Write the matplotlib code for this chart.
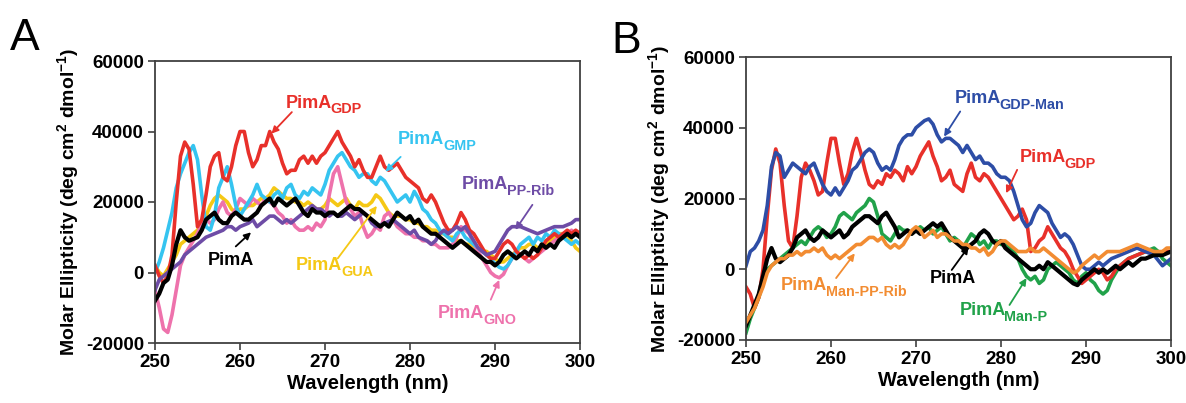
import numpy as np
import matplotlib
matplotlib.use("Agg")
import matplotlib.pyplot as plt

plt.rcParams['font.family'] = ['Liberation Sans', 'DejaVu Sans']
plt.rcParams['mathtext.fontset'] = 'custom'
plt.rcParams['mathtext.bf'] = 'Liberation Sans:bold'
plt.rcParams['mathtext.rm'] = 'Liberation Sans:bold'

# shared wavelength grid (nm), 0.5 nm steps
wavelength = np.arange(250.0, 300.01, 0.5)

# ---------------- Panel A (values in units of 1000 deg cm2 dmol-1) ----------------
a_gdp = [2, -1, -3, -1, 5, 20, 33, 37, 35, 25,
         13, 15, 22, 30, 33, 34, 27, 26, 30, 36,
         40, 40, 34, 30, 32, 36, 36, 40, 37, 35,
         31, 28, 29, 29, 32, 33, 31, 33, 31, 33,
         34, 36, 38, 40, 37, 35, 33, 30, 32, 29,
         27, 27, 30, 33, 30, 29, 30, 31, 29, 27,
         26, 25, 24, 21, 20, 22, 20, 17, 14, 12,
         12, 14, 17, 15, 12, 11, 9, 7, 5, 4,
         4, 6, 8, 9, 8, 6, 5, 4, 5, 4,
         5, 7, 9, 10, 11, 10, 11, 12, 11, 12,
         11]
a_gmp = [0, 3, 7, 12, 17, 24, 28, 31, 34, 36,
         32, 22, 13, 12, 16, 24, 27, 30, 25, 19,
         16, 18, 20, 22, 25, 22, 21, 20, 22, 23,
         21, 24, 25, 22, 21, 23, 22, 24, 23, 22,
         25, 29, 31, 33, 34, 32, 30, 29, 27, 28,
         28, 26, 25, 27, 26, 24, 22, 20, 21, 22,
         20, 23, 21, 18, 17, 15, 14, 12, 11, 10,
         9, 11, 12, 10, 9, 8, 7, 6, 5, 4,
         2.5, 1.5, 1, 2, 4, 6, 8, 9, 10, 8,
         10, 9, 11, 10, 12, 11, 10, 9, 8, 9,
         8]
a_gua = [2, 0, -1, 1, 3, 5, 8, 9, 10, 11,
         12, 14, 16, 19, 21, 22, 21, 20, 18, 17,
         18, 18, 19, 19, 20, 21, 21, 22, 24, 23,
         22, 21, 21, 20, 20, 19, 20, 19, 18, 18,
         19, 21, 20, 19, 20, 21, 19, 18, 20, 19,
         19, 20, 22, 21, 19, 17, 16, 16, 16, 15,
         15, 14, 14, 13, 13, 12, 12, 11, 11, 10,
         10, 9, 9, 8, 8, 7, 7, 6, 6, 5,
         4, 3, 3, 4, 5, 6, 7, 7, 8, 8,
         7, 7, 8, 9, 10, 11, 11, 10, 9, 7,
         6]
a_gno = [-5, -10, -16, -17, -12, -5, 2, 5, 7, 9,
         11, 14, 15, 14, 15, 18, 20, 17, 16, 18,
         21, 20, 19, 21, 20, 19, 21, 20, 19, 17,
         16, 14, 15, 13, 12, 12, 13, 12, 14, 13,
         15, 22, 28, 30, 25, 20, 18, 16, 17, 13,
         10, 11, 13, 12, 16, 17, 15, 13, 12, 11,
         11, 10, 10, 9, 9, 8, 8, 7, 7, 7,
         8, 10, 13, 12, 11, 8, 6, 4, 2, 0,
         -1, -1.5, -0.5, 2, 4, 6, 5, 4, 3, 4,
         5, 6, 7, 8, 9, 10, 11, 11, 12, 11,
         11]
a_pprib = [-5, -2, -1, 0, 1, 2, 3, 5, 6, 7,
           8, 9, 10, 10.5, 11, 11.5, 12, 13, 13, 12,
           13, 13.5, 14, 15, 13, 14, 15, 16, 16, 15,
           14, 15, 14, 15, 16, 17, 18, 19, 18, 18,
           17, 16, 17, 16, 16, 17, 16, 15, 16, 17,
           16, 14, 13, 13.5, 14, 14.5, 15, 14, 13, 12,
           11, 12, 10, 9.5, 9, 8, 9, 11, 12, 11,
           12, 13, 12, 13, 11, 9, 7, 6, 5, 5.5,
           6, 8, 10, 12, 13, 13, 13, 12.5, 12, 11.5,
           11, 11.5, 12, 12.5, 13, 13, 13, 13.5, 14, 15,
           15]
a_pima = [-8, -6, -3, -2, 2, 8, 12, 10, 9, 9.5,
          10, 12, 15, 16, 17, 15, 14, 14, 16, 17,
          16, 15, 15, 16, 17, 19, 20, 21, 19, 21,
          20, 19, 20, 21, 19, 17, 16, 18, 17, 17,
          16, 17, 17, 16, 17, 18, 19, 18, 18, 17,
          16, 15, 14, 13, 14, 13, 15, 17, 16, 15,
          16, 14, 15, 13, 12, 11, 11, 10, 9, 8,
          7, 8, 9, 8, 7, 6, 5, 4, 3, 3,
          2, 3, 5, 6, 5, 4, 5, 6, 5, 7,
          6, 8, 7, 8, 7, 9, 10, 11, 10, 11,
          10]

# ---------------- Panel B ----------------
b_gdpman = [1, 5, 6, 8, 11, 18, 29, 33, 32, 26,
            28, 30, 29, 28, 27, 29, 30, 27, 24, 22,
            21, 23, 21, 23, 25, 28, 29, 31, 33, 34,
            33, 30, 28, 29, 28, 31, 35, 37, 38, 38,
            40, 41, 42, 42.5, 41, 38, 36, 37, 37, 36,
            35, 33, 35, 33, 31, 32, 30, 30, 29, 27,
            26, 26, 25, 22, 18, 14, 12, 13, 16, 18,
            17, 16, 13, 11, 9, 10, 9, 7, 4, 1,
            0, 0, 1, 2, 1, 2, 3, 3.5, 4, 4.5,
            5, 5.5, 6, 5.5, 5, 4.5, 4, 2.5, 1, 2,
            3]
b_gdp = [-5, -7, -11, -8, 0, 15, 28, 34, 30, 18,
         8, 6, 15, 26, 30, 28, 25, 21, 22, 30,
         37, 37, 30, 24, 27, 33, 37, 33, 28, 24,
         23, 25, 24, 27, 26, 28, 27, 25, 29, 27,
         29, 32, 34, 36, 32, 29, 25, 26, 28, 24,
         23, 22, 27, 30, 26, 25, 27, 26, 24, 22,
         20, 18, 16, 14, 15, 17, 14, 5, 6, 8,
         9, 12, 10, 8, 6, 5, 3, 0, -2, -4,
         -3, -2, -1, 0, -1, -3, -2, 0, 1, 2,
         3, 3.5, 4, 4.5, 5, 5, 4, 4.5, 5, 5,
         5]
b_manp = [-18, -14, -11, -8, -4, 0, 1, 2, 3, 4,
          5, 6, 7, 8, 7, 9, 11, 12, 11, 9,
          10, 12, 15, 16, 15, 14, 16, 17, 18, 20,
          19, 15, 10, 9, 8, 10, 12, 11, 11, 10,
          11, 12, 11, 12, 10, 11, 12, 10, 8, 9,
          8, 6, 8, 10, 9, 7, 8, 6, 8, 8,
          7, 7, 6, 5, 3, 0, -2, -3, -2, -4,
          -3, 0, 1, 2, 1, 0, -1, -3, -4, -2,
          -1, -3, -4, -6, -7, -6, -3, -1, 1, 2,
          3, 3.5, 4, 4.5, 5, 5.5, 6, 5, 3, 2,
          1]
b_pima = [-16, -13, -10, -7, -2, 3, 6, 3, 2, 3,
          4, 6, 9, 10, 11, 9, 8, 9, 11, 10,
          9, 10, 11, 9, 10, 12, 13, 14, 15, 15,
          14, 13, 15, 16, 14, 12, 9, 10, 11, 10,
          11, 10, 11, 12, 13, 12, 13, 11, 9, 8,
          7, 6, 6, 7, 8, 10, 11, 10, 8, 7,
          8, 6, 5, 4, 3, 2, 1, 0, 0, 1,
          0, 2, 1, 0, -1, -2, -3, -4, -4.5, -3,
          -2, -1, 0, -1, 0, -1, 0, 1, 0, 1,
          2, 1, 2, 3, 3, 3.5, 4, 4, 4, 4.5,
          5]
b_manpprib = [-15, -13, -11, -8, -5, -1, 1, 2, 3, 3,
              4, 4, 5, 4, 5, 5, 6, 5, 6, 4,
              3, 4, 3, 4, 5, 6, 7, 7, 8, 9,
              9, 8, 9, 7, 6, 7, 6, 7, 9, 11,
              12, 11, 9, 10, 11, 9, 10, 10, 9, 8,
              8, 7, 7, 6, 6, 5, 6, 4, 5, 7,
              8, 8, 7, 6, 5, 5, 5, 6, 5, 5,
              6, 5, 4, 3, 2, 1, 0, -1, -0.5, 1,
              2, 3, 4, 3, 4, 5, 5, 5, 5, 5.5,
              6, 6.5, 7, 6.5, 6, 5.5, 5, 5, 5, 6,
              6]

# colours
RED = '#E8302A'
CYAN = '#35C4F0'
YELLOW = '#F5C815'
PINK = '#EE72AC'
PURPLE = '#6E4CA6'
BLACK = '#000000'
BLUE = '#2D4DA6'
GREEN = '#21A24A'
ORANGE = '#F28C32'

fig = plt.figure(figsize=(11.86, 4.03), dpi=100)
axA = fig.add_axes([155/1186, 60/403, 425/1186, 282/403])
axB = fig.add_axes([746/1186, 63/403, 425/1186, 283/403])

LW = 2.6
series_A_order = [a_gua, a_gno, a_gmp, a_gdp, a_pprib, a_pima]
colors_A = [YELLOW, PINK, CYAN, RED, PURPLE, BLACK]
for vals, c in zip(series_A_order, colors_A):
    axA.plot(wavelength, np.array(vals) * 1000, color=c, lw=3.0 if c == BLACK else LW,
             solid_joinstyle='round')

series_B_order = [b_manp, b_gdp, b_gdpman, b_pima, b_manpprib]
colors_B = [GREEN, RED, BLUE, BLACK, ORANGE]
for vals, c in zip(series_B_order, colors_B):
    axB.plot(wavelength, np.array(vals) * 1000, color=c, lw=3.0 if c == BLACK else LW,
             solid_joinstyle='round')

TICK_FS = 13.5
for ax in (axA, axB):
    ax.set_xlim(250, 300)
    ax.set_ylim(-20000, 60000)
    ax.set_xticks([250, 260, 270, 280, 290, 300])
    ax.set_yticks([-20000, 0, 20000, 40000, 60000])
    ax.set_yticklabels(['-20000', '0', '20000', '40000', '60000'])
    ax.tick_params(direction='out', length=5, width=1.2, color='#404040',
                   labelsize=TICK_FS, pad=3)
    for lab in ax.get_xticklabels() + ax.get_yticklabels():
        lab.set_fontweight('bold')
    for sp in ax.spines.values():
        sp.set_color('#404040')
        sp.set_linewidth(1.3)
    ax.set_xlabel('Wavelength (nm)', fontsize=14.5, fontweight='bold', labelpad=2)
    ax.set_ylabel(r'Molar Ellipticity (deg cm$^{\mathbf{2}}$ dmol$^{\mathbf{-1}}$)',
                  fontsize=14, fontweight='bold', labelpad=3)

fig.text(10/1186, 1 - 50/403, 'A', fontsize=32, ha='left', va='baseline')
fig.text(611/1186, 1 - 53/403, 'B', fontsize=32, ha='left', va='baseline')


def label(ax, x, y, sub, color, tail, tip, size=13):
    t = ax.text(x, y, 'PimA', color=color, fontsize=size, fontweight='bold',
                ha='left', va='baseline')
    if sub:
        ax.annotate(sub, xy=(1, 0), xycoords=t, xytext=(-1.0, -3.5),
                    textcoords='offset points', fontsize=size * 0.8,
                    color=color, fontweight='bold', ha='left', va='bottom')
    ax.annotate('', xy=(tip[0], tip[1] * 1000), xytext=(tail[0], tail[1] * 1000),
                arrowprops=dict(arrowstyle='-|>', color=color, lw=1.3,
                                mutation_scale=10, shrinkA=0, shrinkB=0))


# Panel A labels
label(axA, 265.4, 46800, 'GDP', RED, (266.1, 45.5), (263.7, 39.4))
label(axA, 278.6, 36400, 'GMP', CYAN, (278.9, 32.8), (277.1, 28.6))
label(axA, 286.1, 23600, 'PP-Rib', PURPLE, (294.4, 19.2), (292.4, 12.1))
label(axA, 256.2, 2200, '', BLACK, (259.5, 7.4), (261.3, 11.4))
label(axA, 266.6, 750, 'GUA', YELLOW, (271.5, 4.0), (276.1, 18.9))
label(axA, 283.3, -12900, 'GNO', PINK, (289.5, -7.7), (290.5, -2.1))

# Panel B labels
label(axB, 274.5, 47000, 'GDP-Man', BLUE, (275.2, 44.6), (273.3, 37.5))
label(axB, 282.2, 30200, 'GDP', RED, (281.9, 28.1), (280.6, 21.5))
label(axB, 271.6, -3800, '', BLACK, (274.2, -0.2), (276.2, 6.4))
label(axB, 254.1, -5800, 'Man-PP-Rib', ORANGE, (260.6, -2.5), (262.8, 4.5))
label(axB, 275.1, -12900, 'Man-P', GREEN, (281.0, -10.1), (283.0, -2.5))

fig.savefig('out.png', dpi=100, facecolor='white')
